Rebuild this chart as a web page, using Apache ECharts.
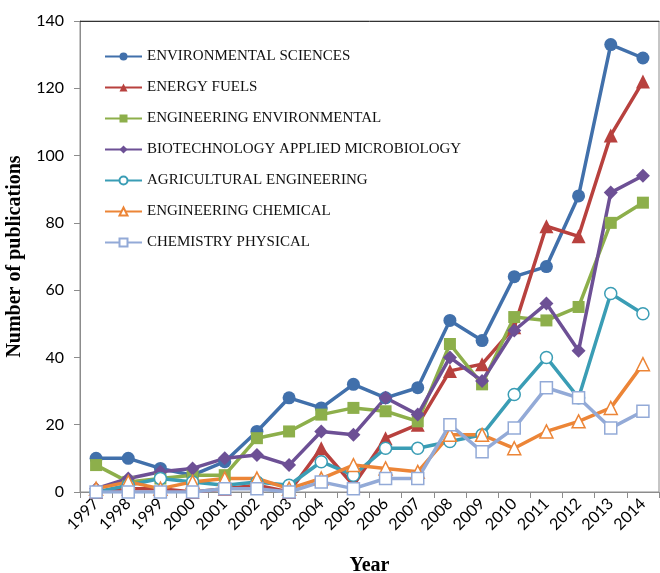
<!DOCTYPE html>
<html>
<head>
<meta charset="utf-8">
<script src="https://cdn.jsdelivr.net/npm/echarts@6/dist/echarts.min.js"></script>
<style>
  html, body { margin: 0; padding: 0; background: #fff; }
  #chart { width: 660px; height: 573px; }
</style>
</head>
<body>
<div id="chart"></div>
<script>
// Publications per year, 1997-2014, by subject category
const years = ['1997','1998','1999','2000','2001','2002','2003','2004','2005','2006','2007','2008','2009','2010','2011','2012','2013','2014'];

const environmentalSciences   = [10, 10, 7, 5, 9, 18, 28, 25, 32, 28, 31, 51, 45, 64, 67, 88, 133, 129];
const energyFuels             = [0, 1, 1, 0, 1, 2, 0, 13, 2, 16, 20, 36, 38, 49, 79, 76, 106, 122];
const engineeringEnvironmental = [8, 3, 4, 5, 5, 16, 18, 23, 25, 24, 21, 44, 32, 52, 51, 55, 80, 86];
const biotechnologyMicrobiology = [1, 4, 6, 7, 10, 11, 8, 18, 17, 28, 23, 40, 33, 48, 56, 42, 89, 94];
const agriculturalEngineering = [0, 2, 4, 3, 2, 3, 2, 9, 5, 13, 13, 15, 17, 29, 40, 28, 59, 53];
const engineeringChemical     = [1, 3, 1, 3, 4, 4, 1, 4, 8, 7, 6, 17, 17, 13, 18, 21, 25, 38];
const chemistryPhysical       = [0, 0, 0, 0, 1, 1, 0, 3, 1, 4, 4, 20, 12, 19, 31, 28, 19, 24];

const yTicks = { min: 0, max: 140, interval: 20 };

const serif = '"Liberation Serif", "Times New Roman", serif';
const sans = 'Lato, "Liberation Sans", sans-serif';

function lineSeries(name, data, color, symbol, size, hollow) {
  return {
    name: name,
    type: 'line',
    data: data,
    symbol: symbol,
    symbolSize: size,
    showAllSymbol: true,
    lineStyle: { color: color, width: 3.5 },
    itemStyle: hollow
      ? { color: '#ffffff', borderColor: color, borderWidth: 1.5 }
      : { color: color, borderColor: color, borderWidth: 0 },
    emphasis: { disabled: true },
    animation: false
  };
}

const chart = echarts.init(document.getElementById('chart'), null, { renderer: 'canvas' });

chart.setOption({
  backgroundColor: '#ffffff',
  animation: false,
  grid: {
    left: 80, right: 1, top: 21, bottom: 81,
    outerBoundsMode: 'none',
    containLabel: false,
    show: true, borderColor: '#8c8c8c', borderWidth: 1
  },
  legend: {
    orient: 'vertical',
    left: 99,
    top: 44,
    padding: 5,
    itemWidth: 37,
    itemHeight: 10,
    itemGap: 16,
    textStyle: { fontFamily: serif, fontSize: 15, color: '#111' },
    data: [
      'ENVIRONMENTAL SCIENCES', 'ENERGY FUELS', 'ENGINEERING ENVIRONMENTAL',
      'BIOTECHNOLOGY APPLIED MICROBIOLOGY', 'AGRICULTURAL ENGINEERING',
      'ENGINEERING CHEMICAL', 'CHEMISTRY PHYSICAL'
    ]
  },
  xAxis: [{
    type: 'category',
    data: years,
    boundaryGap: true,
    name: 'Year',
    nameLocation: 'middle',
    nameGap: 64,
    nameTextStyle: { fontFamily: serif, fontSize: 20, fontWeight: 'bold', color: '#000' },
    axisLine: { lineStyle: { color: '#8c8c8c', width: 1 } },
    axisTick: { show: true, length: 6, lineStyle: { color: '#8c8c8c' } },
    axisLabel: { rotate: 45, fontFamily: sans, fontSize: 16, color: '#000', margin: 9 },
    splitLine: { show: false }
  }, {
    type: 'category',
    data: years,
    position: 'top',
    axisLine: { lineStyle: { color: '#333', width: 1 } },
    axisTick: { show: false },
    axisLabel: { show: false },
    splitLine: { show: false }
  }],
  yAxis: {
    type: 'value',
    min: yTicks.min,
    max: yTicks.max,
    interval: yTicks.interval,
    name: 'Number of publications',
    nameLocation: 'middle',
    nameGap: 51,
    nameTextStyle: { fontFamily: serif, fontSize: 20, fontWeight: 'bold', color: '#000' },
    axisLine: { show: true, lineStyle: { color: '#8c8c8c', width: 1 } },
    axisTick: { show: true, length: 6, lineStyle: { color: '#8c8c8c' } },
    axisLabel: { fontFamily: sans, fontSize: 16, color: '#000', margin: 16 },
    splitLine: { show: false }
  },
  series: [
    lineSeries('ENVIRONMENTAL SCIENCES', environmentalSciences, '#4170AB', 'circle', 13, false),
    lineSeries('ENERGY FUELS', energyFuels, '#B8413E', 'triangle', 14, false),
    lineSeries('ENGINEERING ENVIRONMENTAL', engineeringEnvironmental, '#8DAF4B', 'rect', 12, false),
    lineSeries('BIOTECHNOLOGY APPLIED MICROBIOLOGY', biotechnologyMicrobiology, '#6D5095', 'diamond', 14, false),
    lineSeries('AGRICULTURAL ENGINEERING', agriculturalEngineering, '#3A9DB5', 'circle', 12, true),
    lineSeries('ENGINEERING CHEMICAL', engineeringChemical, '#EC8537', 'triangle', 13, true),
    lineSeries('CHEMISTRY PHYSICAL', chemistryPhysical, '#93AAD7', 'rect', 12, true)
  ]
});
</script>
</body>
</html>
